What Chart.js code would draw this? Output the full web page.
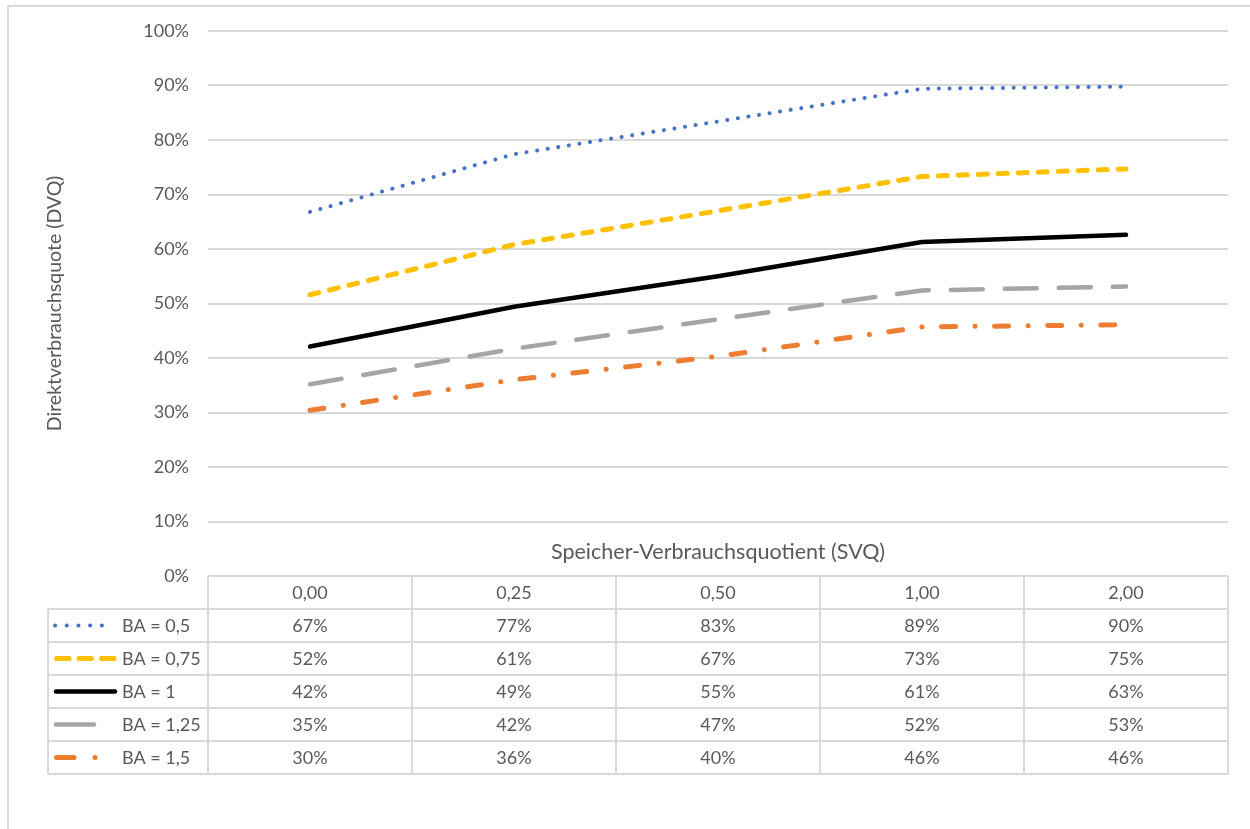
<!DOCTYPE html>
<html>
<head>
<meta charset="utf-8">
<script src="https://cdn.jsdelivr.net/npm/chart.js@4"></script>
<style>
    body { margin: 0; background: #fff; }
    canvas { display: block; }
</style>
</head>
<body>
<canvas id="dvqChart" width="1250" height="829"></canvas>
<script>
// Data
const categories = ['0,00', '0,25', '0,50', '1,00', '2,00'];
const seriesNames = ['BA = 0,5', 'BA = 0,75', 'BA = 1', 'BA = 1,25', 'BA = 1,5'];
const ba05 = [0.668, 0.774, 0.834, 0.894, 0.898];
const ba075 = [0.516, 0.608, 0.670, 0.733, 0.747];
const ba1 = [0.421, 0.494, 0.550, 0.613, 0.626];
const ba125 = [0.352, 0.417, 0.471, 0.524, 0.531];
const ba15 = [0.304, 0.360, 0.403, 0.457, 0.461];
const yTicks = [0, 0.1, 0.2, 0.3, 0.4, 0.5, 0.6, 0.7, 0.8, 0.9, 1];

const FONT = 'Lato';
const TEXT = '#595959';
const GRID = '#D9D9D9';

// line look per series; the key sample in the table uses its own dash
const lineStyles = [
    { color: '#4472C4', width: 4, dash: [0.1, 10.6], keyDash: [0.1, 11.6], keyFrom: 55, keyTo: 113 },
    { color: '#FFC000', width: 5, dash: [9, 11], keyDash: [12.5, 10], keyFrom: 56.5, keyTo: 114 },
    { color: '#000000', width: 4.5, dash: [], keyDash: [], keyFrom: 56, keyTo: 115 },
    { color: '#A5A5A5', width: 4.5, dash: [32, 22], keyDash: [38, 100], keyFrom: 56, keyTo: 115 },
    { color: '#ED7D31', width: 5, dash: [14, 19.5, 0.1, 19.5], keyDash: [17.5, 21, 0.1, 100], keyFrom: 56.5, keyTo: 115 }
];

const pct = v => Math.round(v * 100) + '%';

const datasets = [ba05, ba075, ba1, ba125, ba15].map((values, i) => ({
    label: seriesNames[i],
    data: values,
    borderColor: lineStyles[i].color,
    borderWidth: lineStyles[i].width,
    borderDash: lineStyles[i].dash,
    borderCapStyle: 'round',
    borderJoinStyle: 'round',
    pointRadius: 0,
    tension: 0,
    fill: false
}));

// Draws the frame, the x axis title and the data table under the plot
const dataTablePlugin = {
    id: 'dataTable',
    beforeDraw(chart) {
        const ctx = chart.ctx;
        ctx.save();
        ctx.fillStyle = '#fff';
        ctx.fillRect(0, 0, chart.width, chart.height);
        ctx.strokeStyle = GRID;
        ctx.lineWidth = 2;
        ctx.strokeRect(8, 6, chart.width + 20, chart.height + 20);
        ctx.restore();
    },
    afterDraw(chart) {
        const ctx = chart.ctx;
        const x = chart.scales.x;
        const y = chart.scales.y;
        const area = chart.chartArea;
        const step = x.getPixelForValue(1) - x.getPixelForValue(0);
        const top = y.getPixelForValue(0);
        const rowH = 33;
        const legendLeft = 48;
        const nRows = chart.data.datasets.length;
        const bottom = top + rowH * (nRows + 1);

        ctx.save();
        ctx.fillStyle = TEXT;
        ctx.textBaseline = 'middle';

        // x axis title
        ctx.font = '21.5px ' + FONT;
        ctx.textAlign = 'center';
        ctx.fillText('Speicher-Verbrauchsquotient (SVQ)', (area.left + area.right) / 2, top - 24);

        // grid of the table
        ctx.strokeStyle = GRID;
        ctx.lineWidth = 2;
        ctx.beginPath();
        ctx.moveTo(area.left, top);
        ctx.lineTo(area.right, top);
        for (let r = 1; r <= nRows + 1; r++) {
            ctx.moveTo(legendLeft, top + r * rowH);
            ctx.lineTo(area.right, top + r * rowH);
        }
        ctx.moveTo(legendLeft, top + rowH);
        ctx.lineTo(legendLeft, bottom);
        categories.forEach((c, i) => {
            const cx = x.getPixelForValue(i);
            ctx.moveTo(cx - step / 2, top);
            ctx.lineTo(cx - step / 2, bottom);
        });
        ctx.moveTo(area.right, top);
        ctx.lineTo(area.right, bottom);
        ctx.stroke();

        // header row
        ctx.font = '18px ' + FONT;
        categories.forEach((c, i) => {
            ctx.fillText(c, x.getPixelForValue(i), top + rowH / 2 + 1);
        });

        // series rows with key samples
        chart.data.datasets.forEach((ds, r) => {
            const cy = top + rowH * (r + 1) + rowH / 2 + 1;
            ds.data.forEach((v, i) => {
                ctx.textAlign = 'center';
                ctx.fillText(pct(v), x.getPixelForValue(i), cy);
            });
            const st = lineStyles[r];
            ctx.save();
            ctx.strokeStyle = ds.borderColor;
            ctx.lineWidth = ds.borderWidth;
            ctx.lineCap = 'round';
            ctx.setLineDash(st.keyDash);
            ctx.beginPath();
            ctx.moveTo(st.keyFrom, cy - 1);
            ctx.lineTo(st.keyTo, cy - 1);
            ctx.stroke();
            ctx.restore();
            ctx.textAlign = 'left';
            ctx.fillText(ds.label, 122, cy);
        });
        ctx.restore();
    }
};

new Chart(document.getElementById('dvqChart'), {
    type: 'line',
    data: { labels: categories, datasets: datasets },
    options: {
        responsive: false,
        animation: false,
        devicePixelRatio: 1,
        layout: { padding: { left: 8, right: 22, top: 31, bottom: 253 } },
        plugins: {
            legend: { display: false },
            tooltip: { enabled: false }
        },
        scales: {
            x: {
                type: 'category',
                display: false,
                offset: true
            },
            y: {
                min: 0,
                max: 1,
                afterFit: scale => { scale.width = 200; },
                afterBuildTicks: scale => {
                    scale.ticks = yTicks.map(v => ({ value: v }));
                },
                border: { display: false },
                grid: { color: GRID, lineWidth: 2, drawTicks: false },
                ticks: {
                    padding: 19,
                    color: TEXT,
                    font: { family: FONT, size: 18 },
                    callback: v => pct(v)
                },
                title: {
                    display: true,
                    text: 'Direktverbrauchsquote (DVQ)',
                    color: TEXT,
                    font: { family: FONT, size: 19.5 },
                    padding: { top: 35, bottom: 0 }
                }
            }
        }
    },
    plugins: [dataTablePlugin]
});
</script>
</body>
</html>
